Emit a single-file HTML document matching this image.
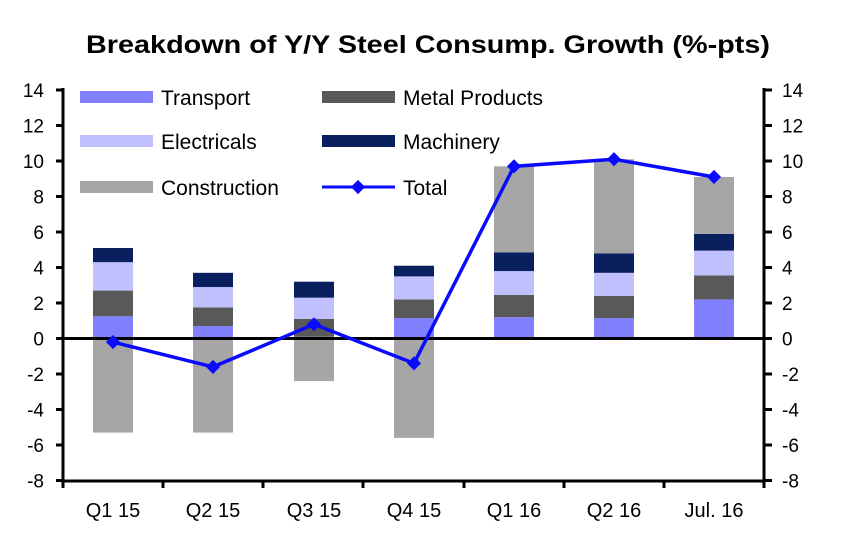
<!DOCTYPE html>
<html><head><meta charset="utf-8"><style>
body{margin:0;background:#fff}
svg{display:block;font-family:"Liberation Sans",sans-serif}
</style></head><body>
<svg width="860" height="534" viewBox="0 0 860 534" xmlns="http://www.w3.org/2000/svg">
<rect width="860" height="534" fill="#fff"/>
<text x="86" y="53" font-size="25" font-weight="bold" textLength="684" lengthAdjust="spacingAndGlyphs">Breakdown of Y/Y Steel Consump. Growth (%-pts)</text>
<g>
<rect x="93" y="316.31" width="40" height="22.19" fill="#8080ff"/>
<rect x="93" y="290.58" width="40" height="25.74" fill="#595959"/>
<rect x="93" y="262.18" width="40" height="28.4" fill="#c0c0ff"/>
<rect x="93" y="247.98" width="40" height="14.2" fill="#0a1f5e"/>
<rect x="93" y="338.5" width="40" height="94.08" fill="#a6a6a6"/>

<rect x="193" y="326.08" width="40" height="12.43" fill="#8080ff"/>
<rect x="193" y="307.44" width="40" height="18.64" fill="#595959"/>
<rect x="193" y="287.03" width="40" height="20.41" fill="#c0c0ff"/>
<rect x="193" y="272.83" width="40" height="14.2" fill="#0a1f5e"/>
<rect x="193" y="338.5" width="40" height="94.08" fill="#a6a6a6"/>

<rect x="294" y="336.73" width="40" height="1.78" fill="#8080ff"/>
<rect x="294" y="318.98" width="40" height="17.75" fill="#595959"/>
<rect x="294" y="297.68" width="40" height="21.3" fill="#c0c0ff"/>
<rect x="294" y="281.7" width="40" height="15.98" fill="#0a1f5e"/>
<rect x="294" y="338.5" width="40" height="42.6" fill="#a6a6a6"/>

<rect x="394" y="318.09" width="40" height="20.41" fill="#8080ff"/>
<rect x="394" y="299.45" width="40" height="18.64" fill="#595959"/>
<rect x="394" y="276.38" width="40" height="23.07" fill="#c0c0ff"/>
<rect x="394" y="265.73" width="40" height="10.65" fill="#0a1f5e"/>
<rect x="394" y="338.5" width="40" height="99.4" fill="#a6a6a6"/>

<rect x="494" y="317.2" width="40" height="21.3" fill="#8080ff"/>
<rect x="494" y="295.01" width="40" height="22.19" fill="#595959"/>
<rect x="494" y="271.05" width="40" height="23.96" fill="#c0c0ff"/>
<rect x="494" y="252.41" width="40" height="18.64" fill="#0a1f5e"/>
<rect x="494" y="166.33" width="40" height="86.08" fill="#a6a6a6"/>

<rect x="594" y="318.09" width="40" height="20.41" fill="#8080ff"/>
<rect x="594" y="295.9" width="40" height="22.19" fill="#595959"/>
<rect x="594" y="272.83" width="40" height="23.07" fill="#c0c0ff"/>
<rect x="594" y="253.3" width="40" height="19.53" fill="#0a1f5e"/>
<rect x="594" y="159.23" width="40" height="94.07" fill="#a6a6a6"/>

<rect x="694" y="299.45" width="40" height="39.05" fill="#8080ff"/>
<rect x="694" y="275.49" width="40" height="23.96" fill="#595959"/>
<rect x="694" y="250.64" width="40" height="24.85" fill="#c0c0ff"/>
<rect x="694" y="233.78" width="40" height="16.86" fill="#0a1f5e"/>
<rect x="694" y="176.98" width="40" height="56.8" fill="#a6a6a6"/>
</g>
<g stroke="#000" stroke-width="3" fill="none">
<line x1="63" y1="88" x2="63" y2="483"/>
<line x1="764" y1="88" x2="764" y2="483"/>
<line x1="63" y1="481" x2="764" y2="481"/>
<line x1="63" y1="338.5" x2="764" y2="338.5"/>
<line x1="56" y1="90" x2="63" y2="90"/><line x1="764" y1="90" x2="772" y2="90"/>
<line x1="56" y1="125.5" x2="63" y2="125.5"/><line x1="764" y1="125.5" x2="772" y2="125.5"/>
<line x1="56" y1="161" x2="63" y2="161"/><line x1="764" y1="161" x2="772" y2="161"/>
<line x1="56" y1="196.5" x2="63" y2="196.5"/><line x1="764" y1="196.5" x2="772" y2="196.5"/>
<line x1="56" y1="232" x2="63" y2="232"/><line x1="764" y1="232" x2="772" y2="232"/>
<line x1="56" y1="267.5" x2="63" y2="267.5"/><line x1="764" y1="267.5" x2="772" y2="267.5"/>
<line x1="56" y1="303" x2="63" y2="303"/><line x1="764" y1="303" x2="772" y2="303"/>
<line x1="56" y1="338.5" x2="63" y2="338.5"/><line x1="764" y1="338.5" x2="772" y2="338.5"/>
<line x1="56" y1="374" x2="63" y2="374"/><line x1="764" y1="374" x2="772" y2="374"/>
<line x1="56" y1="409.5" x2="63" y2="409.5"/><line x1="764" y1="409.5" x2="772" y2="409.5"/>
<line x1="56" y1="445" x2="63" y2="445"/><line x1="764" y1="445" x2="772" y2="445"/>
<line x1="56" y1="480.5" x2="63" y2="480.5"/><line x1="764" y1="480.5" x2="772" y2="480.5"/>
<line x1="163" y1="481" x2="163" y2="488"/><line x1="263" y1="481" x2="263" y2="488"/>
<line x1="363" y1="481" x2="363" y2="488"/><line x1="464" y1="481" x2="464" y2="488"/>
<line x1="564" y1="481" x2="564" y2="488"/><line x1="664" y1="481" x2="664" y2="488"/>
<line x1="63" y1="481" x2="63" y2="488"/><line x1="764" y1="481" x2="764" y2="488"/>
</g>
<g font-size="19" text-anchor="end">
<text x="44" y="97">14</text><text x="44" y="132.5">12</text><text x="44" y="168">10</text>
<text x="44" y="203.5">8</text><text x="44" y="239">6</text><text x="44" y="274.5">4</text>
<text x="44" y="310">2</text><text x="44" y="345.5">0</text><text x="44" y="381">-2</text>
<text x="44" y="416.5">-4</text><text x="44" y="452">-6</text><text x="44" y="487.5">-8</text>
</g>
<g font-size="19">
<text x="782" y="97">14</text><text x="782" y="132.5">12</text><text x="782" y="168">10</text>
<text x="782" y="203.5">8</text><text x="782" y="239">6</text><text x="782" y="274.5">4</text>
<text x="782" y="310">2</text><text x="782" y="345.5">0</text><text x="782" y="381">-2</text>
<text x="782" y="416.5">-4</text><text x="782" y="452">-6</text><text x="782" y="487.5">-8</text>
</g>
<g font-size="20" text-anchor="middle">
<text x="113" y="517">Q1 15</text><text x="213" y="517">Q2 15</text><text x="314" y="517">Q3 15</text>
<text x="414" y="517">Q4 15</text><text x="514" y="517">Q1 16</text><text x="614" y="517">Q2 16</text>
<text x="714" y="517">Jul. 16</text>
</g>
<g font-size="21">
<rect x="80" y="91" width="73" height="12" fill="#8080ff"/><text x="161" y="105">Transport</text>
<rect x="80" y="135" width="73" height="12" fill="#c0c0ff"/><text x="161" y="149">Electricals</text>
<rect x="80" y="181" width="73" height="12" fill="#a6a6a6"/><text x="161" y="195">Construction</text>
<rect x="322" y="91" width="73" height="12" fill="#595959"/><text x="403" y="105">Metal Products</text>
<rect x="322" y="135" width="73" height="12" fill="#0a1f5e"/><text x="403" y="149">Machinery</text>
<line x1="322" y1="187" x2="395" y2="187" stroke="#0a0aff" stroke-width="3"/>
<rect x="353" y="182" width="10" height="10" fill="#0a0aff" transform="rotate(45 358 187)"/>
<text x="403" y="195">Total</text>
</g>
<polyline points="113,342.05 213,366.9 314,324.3 414,363.35 514,166.33 614,159.23 714,176.98" fill="none" stroke="#0a0aff" stroke-width="3.5"/>
<g fill="#0a0aff">
<rect x="108" y="337.05" width="10" height="10" transform="rotate(45 113 342.05)"/>
<rect x="208" y="361.9" width="10" height="10" transform="rotate(45 213 366.9)"/>
<rect x="309" y="319.3" width="10" height="10" transform="rotate(45 314 324.3)"/>
<rect x="409" y="358.35" width="10" height="10" transform="rotate(45 414 363.35)"/>
<rect x="509" y="161.33" width="10" height="10" transform="rotate(45 514 166.33)"/>
<rect x="609" y="154.23" width="10" height="10" transform="rotate(45 614 159.23)"/>
<rect x="709" y="171.98" width="10" height="10" transform="rotate(45 714 176.98)"/>
</g>
</svg>
</body></html>
